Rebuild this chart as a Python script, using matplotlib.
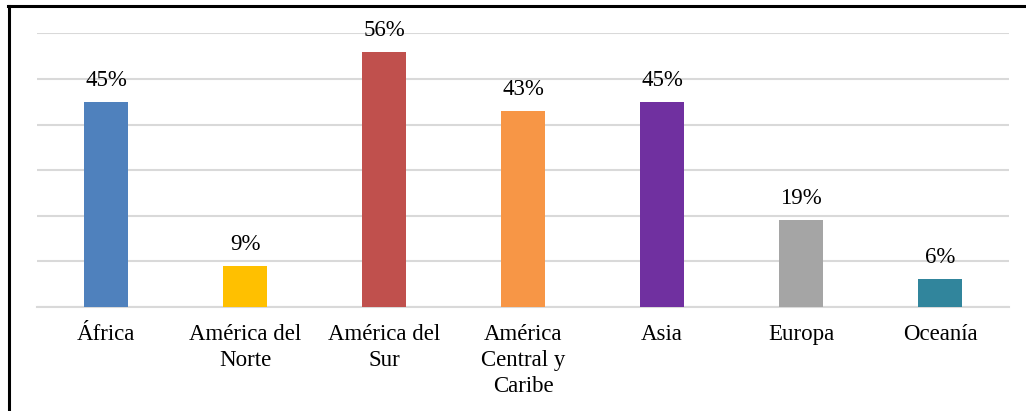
import matplotlib
matplotlib.use("Agg")
import matplotlib.pyplot as plt
from matplotlib.lines import Line2D

categories = ["África", "América del\nNorte", "América del\nSur", "América\nCentral y\nCaribe",
              "Asia", "Europa", "Oceanía"]
values = [45, 9, 56, 43, 45, 19, 6]
colors = ["#4F81BD", "#FFC000", "#C0504D", "#F79646", "#7030A0", "#A5A5A5", "#31859C"]

plt.rcParams['font.family'] = ['Liberation Serif', 'DejaVu Serif']

fig = plt.figure(figsize=(10.26, 4.11), dpi=100)
ax = fig.add_axes([0.0356, 0.2538, 0.9483, 0.6647])

x = range(len(categories))
ax.bar(x, values, width=0.317, color=colors, zorder=3)
for xi, v in zip(x, values):
    ax.text(xi, v + 2.4, f"{v}%", ha="center", va="bottom", fontsize=16.5, color="#000000")

ax.set_xlim(-0.5, len(categories) - 0.5)
ax.set_ylim(0, 60)
ax.set_yticks(range(0, 61, 10))
ax.grid(axis="y", color="#D9D9D9", linewidth=1.5, zorder=0)
ax.set_yticklabels([])
ax.tick_params(axis="y", length=0)
ax.set_xticks(list(x))
ax.set_xticklabels(categories, fontsize=16.5, linespacing=1.3)
ax.tick_params(axis="x", length=0, pad=12.5)
for s in ["top", "right", "left"]:
    ax.spines[s].set_visible(False)
ax.spines["bottom"].set_color("#D9D9D9")
ax.spines["bottom"].set_linewidth(1.5)

# figure frame (left and top edges)
fig.add_artist(Line2D([9/1026, 9/1026], [0, 1 - 6/411], color="black", linewidth=2.2, transform=fig.transFigure))
fig.add_artist(Line2D([8/1026, 1], [1 - 6/411, 1 - 6/411], color="black", linewidth=2.2, transform=fig.transFigure))

fig.savefig("out.png", dpi=100)
